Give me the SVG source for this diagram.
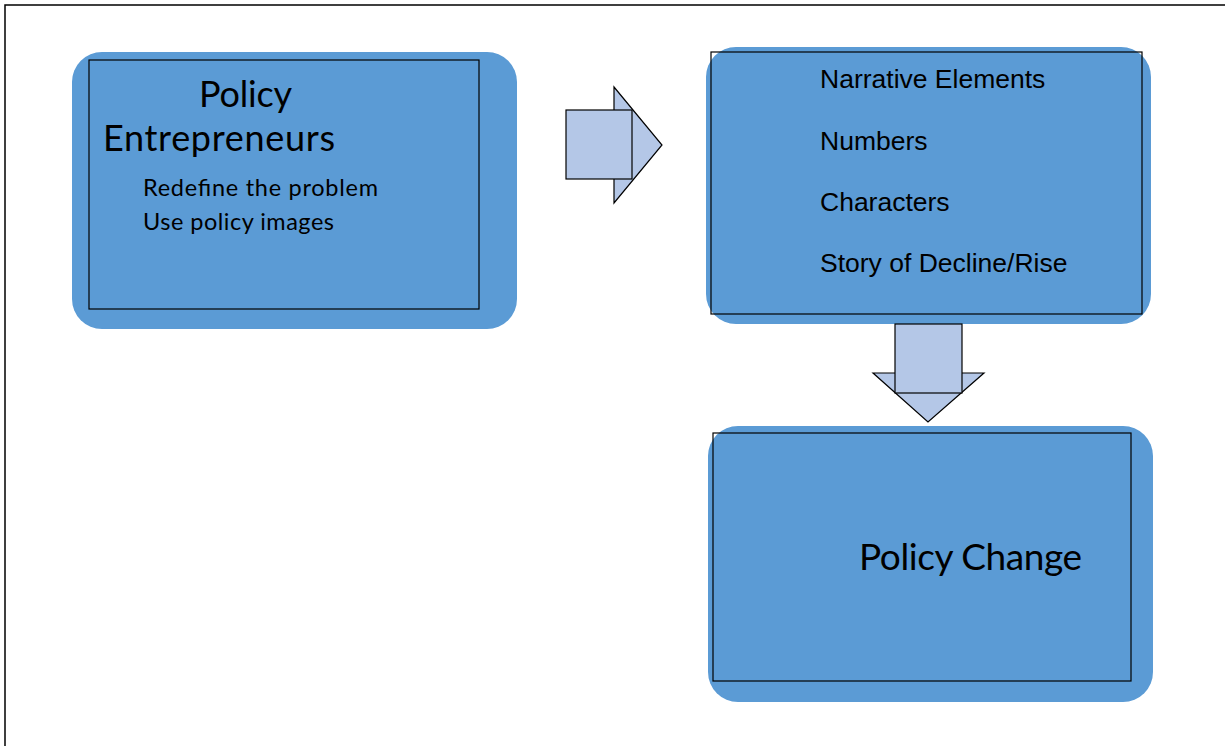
<svg xmlns="http://www.w3.org/2000/svg" width="1225" height="746" viewBox="0 0 1225 746">
<style>
.outer{fill:#5b9bd5;}
.inner{fill:none;stroke:#000;stroke-width:1.2;}
.arrow{fill:#b4c7e7;stroke:#000;stroke-width:1.2;}
.cal{font-family:Lato,"Open Sans",sans-serif;fill:#000;}
.ar{font-family:"Liberation Sans",Arial,sans-serif;font-size:26.5px;fill:#000;}
</style>
<rect width="1225" height="746" fill="#fff"/>
<path d="M5,746 V5 H1225" fill="none" stroke="#000" stroke-width="1.5"/>
<g id="entrepreneurs">
<rect class="outer" x="72" y="52" width="445" height="277" rx="30"/>
<rect class="inner" x="89" y="60" width="390" height="249"/>
<text class="cal" x="199" y="107" font-size="36" textLength="93">Policy</text>
<text class="cal" x="103" y="151" font-size="36" textLength="232">Entrepreneurs</text>
<text class="cal" x="143" y="196" font-size="23.5" textLength="235">Redefine the problem</text>
<text class="cal" x="143" y="230" font-size="23.5" textLength="191">Use policy images</text>
</g>
<g id="narrative">
<rect class="outer" x="706" y="47" width="445" height="277" rx="30"/>
<rect class="inner" x="711" y="52" width="431" height="262"/>
<text class="ar" x="820" y="88">Narrative Elements</text>
<text class="ar" x="820" y="150">Numbers</text>
<text class="ar" x="820" y="211">Characters</text>
<text class="ar" x="820" y="272">Story of Decline/Rise</text>
</g>
<g id="change">
<rect class="outer" x="708" y="426" width="445" height="276" rx="30"/>
<rect class="inner" x="713" y="433" width="418" height="248"/>
<text class="cal" x="859" y="570" font-size="37" textLength="223">Policy Change</text>
</g>
<g id="connectors">
<polygon class="arrow" points="614,87 662,145 614,203"/>
<rect class="arrow" x="566" y="110" width="66" height="69"/>
<polygon class="arrow" points="873,373 984,373 928,422"/>
<rect class="arrow" x="895" y="324" width="67" height="69"/>
</g>
</svg>
